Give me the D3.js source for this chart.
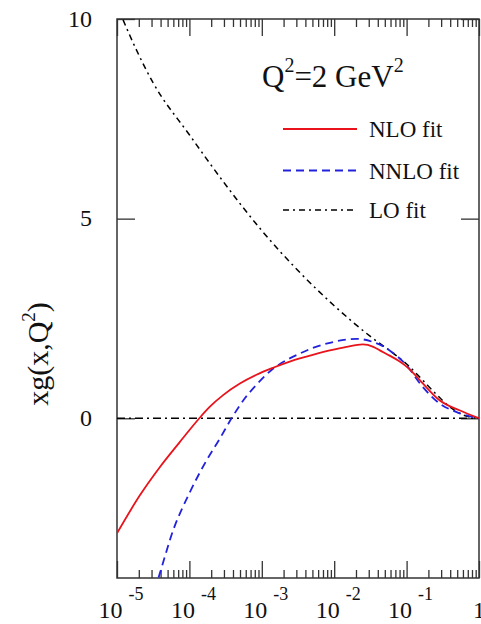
<!DOCTYPE html>
<html>
<head>
    <script src="https://d3js.org/d3.v7.min.js"></script>
    <style>
        body { margin: 0; background: #fff; }
        svg { display: block; font-family: "Liberation Serif", "Times New Roman", serif; }
    </style>
</head>
<body>
    <div id="chart"></div>

    <script>
        // NLO fit (red, solid)
        var nloX = [1e-5, 2.07e-5, 3.92e-5, 7.40e-5, 1.016e-4, 1.40e-4, 1.92e-4, 2.92e-4, 4.98e-4, 8.45e-4,
                    1.43e-3, 2.43e-3, 3.34e-3, 5.05e-3, 8.71e-3, 1.48e-2, 2.47e-2, 3.47e-2, 4.27e-2, 5.83e-2,
                    7.94e-2, 9.91e-2, 0.129, 0.166, 0.285, 0.537, 1];
        var nloY = [-2.88, -1.93, -1.22, -0.59, -0.28, 0.02, 0.29, 0.58, 0.87, 1.09,
                    1.265, 1.42, 1.50, 1.59, 1.70, 1.79, 1.85, 1.79, 1.70, 1.57,
                    1.43, 1.30, 1.10, 0.88, 0.45, 0.20, 0];

        // NNLO fit (blue, dashed)
        var nnloX = [3.31e-5, 3.72e-5, 5.98e-5, 1.016e-4, 1.73e-4, 2.63e-4, 3.82e-4, 5.83e-4, 8.45e-4, 1.43e-3,
                     2.43e-3, 3.34e-3, 5.05e-3, 8.71e-3, 1.47e-2, 2.04e-2, 3.44e-2, 5.83e-2, 9.91e-2, 0.168,
                     0.285, 0.483, 1];
        var nnloY = [-4.3, -4.01, -2.80, -1.85, -1.05, -0.51, 0, 0.50, 0.84, 1.24,
                     1.50, 1.62, 1.76, 1.89, 1.97, 1.99, 1.91, 1.70, 1.33, 0.78,
                     0.37, 0.16, 0];

        // LO fit (black, dash-dot)
        var loX = [1e-5, 1.20e-5, 3.16e-5, 1e-4, 3.16e-4, 1e-3, 3.16e-3, 1e-2, 3.16e-2, 6.31e-2,
                   0.1, 0.158, 0.251, 0.398, 0.631, 1];
        var loY = [10.35, 10.0, 8.4, 7.1, 5.85, 4.7, 3.7, 2.82, 2.05, 1.65,
                   1.36, 1.0, 0.62, 0.28, 0.07, 0];

        // axis ticks
        var xMajor = [1e-5, 1e-4, 1e-3, 1e-2, 1e-1, 1];
        var xExp = ["-5", "-4", "-3", "-2", "-1", ""];
        var yTicks = [0, 5, 10];

        var legendNames = ["NLO fit", "NNLO fit", "LO fit"];

        var W = 481, H = 624;
        var pLeft = 117, pRight = 479, pTop = 19, pBottom = 578;

        var svg = d3.select("#chart").append("svg")
            .attr("width", W)
            .attr("height", H);

        var x = d3.scaleLog().domain([1e-5, 1]).range([pLeft, pRight]);
        var y = d3.scaleLinear().domain([-4, 10]).range([pBottom, pTop]);

        // minor ticks 2..9 in every decade
        var xMinor = [];
        xMajor.slice(0, -1).forEach(function(d) {
            for (var k = 2; k <= 9; k++) xMinor.push(d * k);
        });

        svg.append("clipPath").attr("id", "plot")
            .append("rect")
            .attr("x", pLeft).attr("y", pTop)
            .attr("width", pRight - pLeft).attr("height", pBottom - pTop);

        var frameColor = "#333";

        // bottom and top ticks (pointing inside)
        function xTicks(g, axis, size, vals) {
            g.call(axis.tickValues(vals).tickSizeInner(size).tickSizeOuter(0).tickFormat(""));
            g.select(".domain").remove();
            g.selectAll("line").attr("stroke", frameColor).attr("stroke-width", 1.3);
        }
        svg.append("g").attr("transform", "translate(0," + pBottom + ")")
            .call(xTicks, d3.axisBottom(x), -17, xMajor);
        svg.append("g").attr("transform", "translate(0," + pBottom + ")")
            .call(xTicks, d3.axisBottom(x), -8, xMinor);
        svg.append("g").attr("transform", "translate(0," + pTop + ")")
            .call(xTicks, d3.axisTop(x), -17, xMajor);
        svg.append("g").attr("transform", "translate(0," + pTop + ")")
            .call(xTicks, d3.axisTop(x), -8, xMinor);

        // left and right ticks
        function yAxisTicks(g, axis) {
            g.call(axis.tickValues(yTicks).tickSizeInner(-18).tickSizeOuter(0).tickFormat(""));
            g.select(".domain").remove();
            g.selectAll("line").attr("stroke", frameColor).attr("stroke-width", 1.3);
        }
        svg.append("g").attr("transform", "translate(" + pLeft + ",0)")
            .call(yAxisTicks, d3.axisLeft(y));
        svg.append("g").attr("transform", "translate(" + pRight + ",0)")
            .call(yAxisTicks, d3.axisRight(y));

        // frame
        svg.append("rect")
            .attr("x", pLeft).attr("y", pTop)
            .attr("width", pRight - pLeft).attr("height", pBottom - pTop)
            .attr("fill", "none")
            .attr("stroke", frameColor)
            .attr("stroke-width", 1.5);

        // x tick labels: 10 with superscript exponent
        var xl = svg.append("g").selectAll("text")
            .data(xMajor)
            .enter().append("text")
            .attr("x", function(d) { return x(d) + (d === 1 ? 0 : 4); })
            .attr("y", pBottom + 40)
            .attr("text-anchor", "middle")
            .attr("font-size", 24)
            .attr("fill", "#111");
        xl.append("tspan").text(function(d) { return d === 1 ? "1" : "10"; });
        xl.append("tspan")
            .attr("dx", 6)
            .attr("dy", -18)
            .attr("font-size", 18)
            .text(function(d, i) { return xExp[i]; });

        // y tick labels
        svg.append("g").selectAll("text")
            .data(yTicks)
            .enter().append("text")
            .attr("x", 92)
            .attr("y", function(d) { return y(d); })
            .attr("dy", "0.32em")
            .attr("text-anchor", "end")
            .attr("font-size", 24)
            .attr("fill", "#111")
            .text(function(d) { return d; });

        // y axis title
        var yt = svg.append("text")
            .attr("transform", "translate(48," + 354 + ") rotate(-90)")
            .attr("text-anchor", "middle")
            .attr("font-size", 30)
            .attr("fill", "#111");
        yt.append("tspan").text("xg(x,Q");
        yt.append("tspan").attr("dy", -13).attr("font-size", 19).text("2");
        yt.append("tspan").attr("dy", 13).text(")");

        // curves
        var line = d3.line()
            .x(function(d) { return x(d[0]); })
            .y(function(d) { return y(d[1]); })
            .curve(d3.curveMonotoneX);

        var curves = svg.append("g").attr("clip-path", "url(#plot)");

        // zero line
        curves.append("line")
            .attr("x1", pLeft).attr("x2", pRight)
            .attr("y1", y(0)).attr("y2", y(0))
            .attr("stroke", "#000")
            .attr("stroke-width", 1.6)
            .attr("stroke-dasharray", "8,4,2,4");

        var series = [
            { name: legendNames[2], xs: loX, ys: loY, color: "#000", dash: "6,4,2,4", width: 1.5 },
            { name: legendNames[1], xs: nnloX, ys: nnloY, color: "#2222dd", dash: "8,5", width: 1.8 },
            { name: legendNames[0], xs: nloX, ys: nloY, color: "#e8131b", dash: null, width: 1.8 }
        ];

        series.forEach(function(s) {
            curves.append("path")
                .datum(d3.zip(s.xs, s.ys))
                .attr("d", line)
                .attr("fill", "none")
                .attr("stroke", s.color)
                .attr("stroke-width", s.width)
                .attr("stroke-dasharray", s.dash);
        });

        // Q^2 label
        var q = svg.append("text")
            .attr("x", 262)
            .attr("y", 87)
            .attr("font-size", 31)
            .attr("fill", "#111");
        q.append("tspan").text("Q");
        q.append("tspan").attr("dy", -15).attr("font-size", 20).text("2");
        q.append("tspan").attr("dy", 15).text("=2 GeV");
        q.append("tspan").attr("dy", -15).attr("font-size", 20).text("2");

        // legend
        var legendRows = [series[2], series[1], series[0]];
        var legendY = [129, 170.5, 210];
        var lg = svg.append("g").selectAll("g")
            .data(legendRows)
            .enter().append("g")
            .attr("transform", function(d, i) { return "translate(0," + legendY[i] + ")"; });
        lg.append("line")
            .attr("x1", 283).attr("x2", 357)
            .attr("stroke", function(d) { return d.color; })
            .attr("stroke-width", function(d) { return d.width; })
            .attr("stroke-dasharray", function(d) { return d.dash; });
        lg.append("text")
            .attr("x", 369)
            .attr("y", 8)
            .attr("font-size", 23)
            .attr("fill", "#111")
            .text(function(d) { return d.name; });
    </script>
</body>
</html>
